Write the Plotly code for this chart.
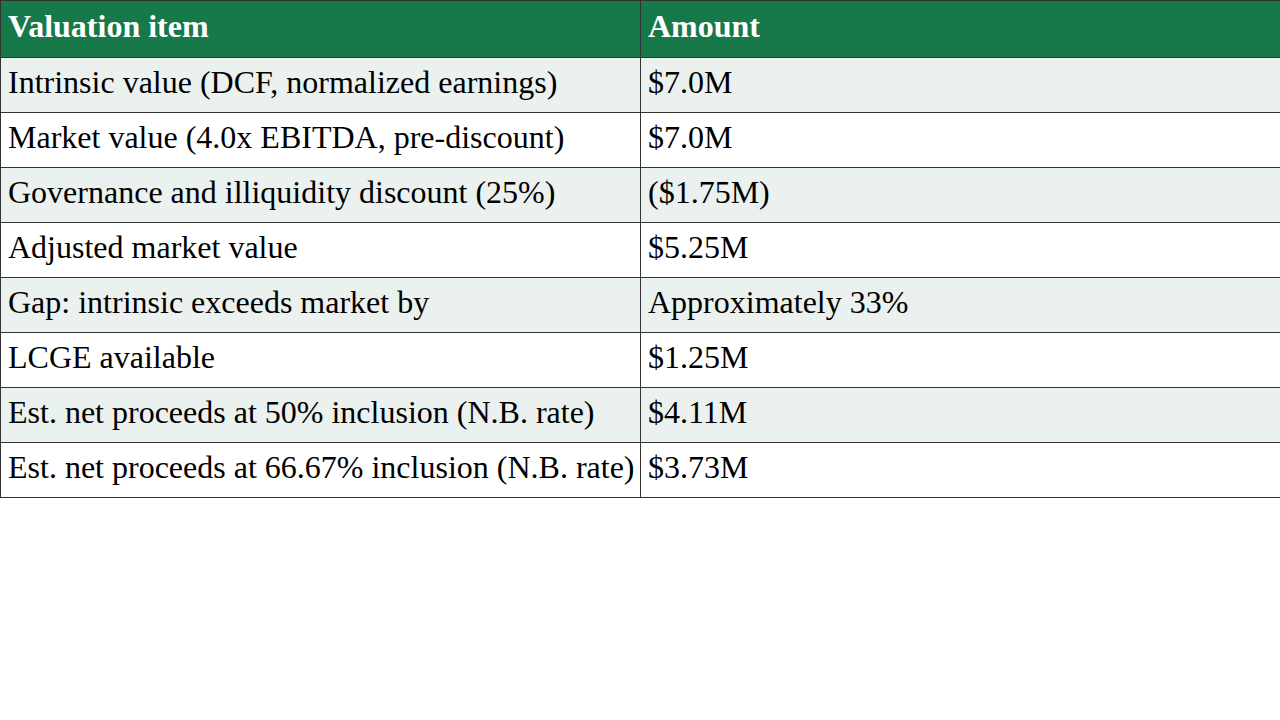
import plotly.graph_objects as go

header_labels = ["Valuation item", "Amount"]
items = [
    "Intrinsic value (DCF, normalized earnings)",
    "Market value (4.0x EBITDA, pre-discount)",
    "Governance and illiquidity discount (25%)",
    "Adjusted market value",
    "Gap: intrinsic exceeds market by",
    "LCGE available",
    "Est. net proceeds at 50% inclusion (N.B. rate)",
    "Est. net proceeds at 66.67% inclusion (N.B. rate)",
]
amounts = ["$7.0M", "$7.0M", "($1.75M)", "$5.25M", "Approximately 33%",
           "$1.25M", "$4.11M", "$3.73M"]

green = "#17784a"
stripe = "#eaf1ee"
border = "#333333"
font_size = 32
head_h = 57
row_h = 55
clear = "rgba(0,0,0,0)"

row_fill = [stripe if i % 2 == 0 else "white" for i in range(len(items))]
# non-breaking spaces so plotly doesn't wrap the longest label
item_text = [s.replace(" ", "\u00a0") for s in items]
blank = [""] * len(items)

fig = go.Figure()

# grid, fills and header text
fig.add_trace(go.Table(
    columnwidth=[1, 1],
    header=dict(
        values=["<b>%s</b>" % h for h in header_labels],
        fill_color=green,
        line=dict(color=border, width=1),
        font=dict(family="Liberation Serif", size=font_size, color="white"),
        align="left",
        height=head_h,
    ),
    cells=dict(
        values=[blank, blank],
        fill_color=[row_fill, row_fill],
        line=dict(color=border, width=1),
        font=dict(family="Liberation Serif", size=font_size, color="black"),
        align="left",
        height=row_h,
    ),
))

# body text, nudged down a few px so it sits centred in the rows
fig.add_trace(go.Table(
    domain=dict(x=[0, 1], y=[0, 1 - 4 / 720]),
    columnwidth=[1, 1],
    header=dict(
        values=["", ""],
        fill_color=clear,
        line=dict(color=clear, width=0),
        height=head_h,
    ),
    cells=dict(
        values=[item_text, amounts],
        fill_color=clear,
        line=dict(color=clear, width=0),
        font=dict(family="Liberation Serif", size=font_size, color="black"),
        align="left",
        height=row_h,
    ),
))

fig.update_layout(
    width=1280, height=720,
    margin=dict(l=0, r=0, t=0, b=0),
    paper_bgcolor="white",
)

# drop the browser's default 8px body margin so the table sits at 0,0
fig.write_html("out.html", config={"displayModeBar": False},
               post_script="document.body.style.margin='0';")
